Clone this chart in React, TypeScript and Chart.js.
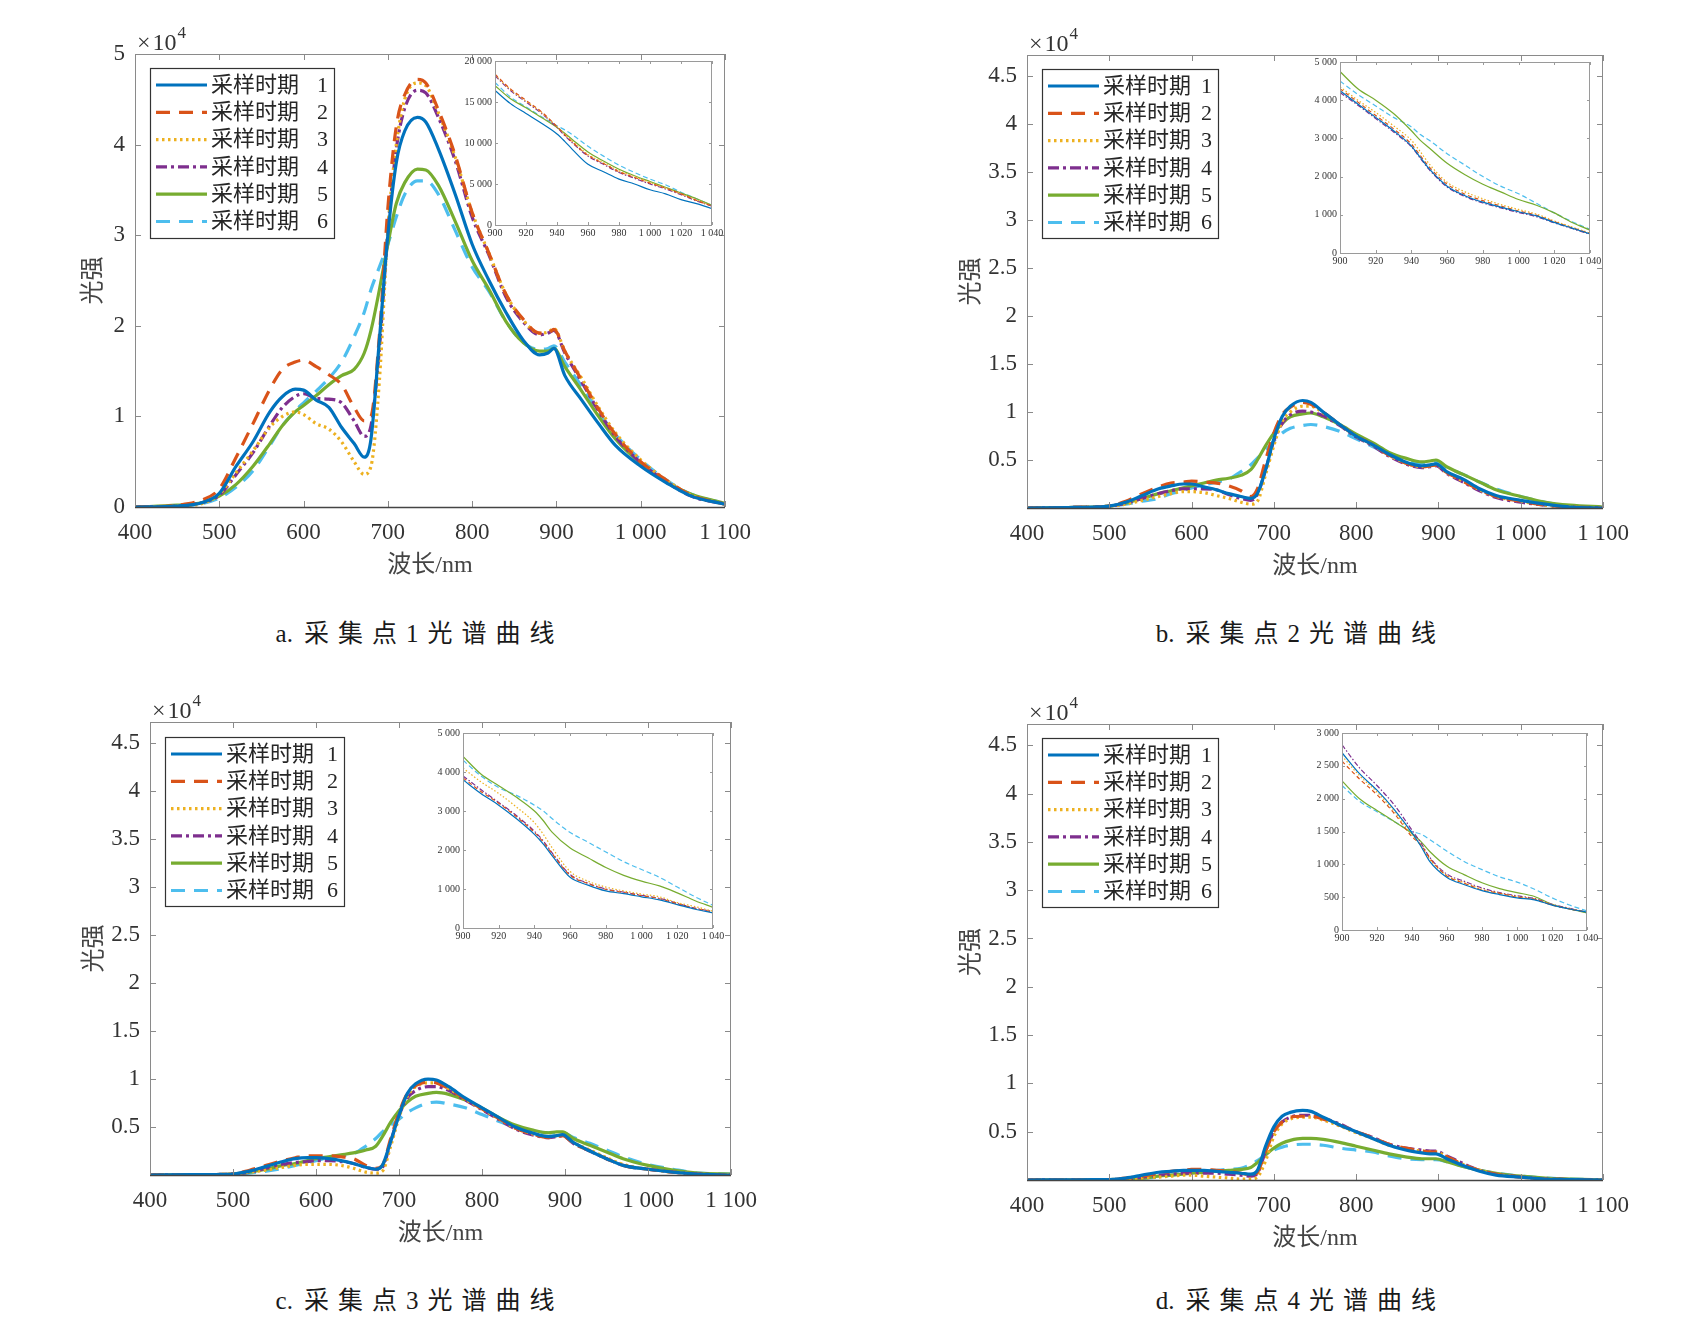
import React, { useEffect, useRef } from "react";
import { Chart, registerables } from "chart.js";

Chart.register(...registerables);

const FONT = "'Liberation Serif', 'Noto Sans CJK SC', serif";

// ---------- main spectra (x 10^4) ----------
const WL = [400, 450, 480, 500, 520, 540, 560, 575, 590, 600, 615, 630, 645, 660, 672, 680, 690, 700, 710, 720, 735, 745, 760, 780, 800, 820, 840, 860, 880, 890, 897, 910, 930, 950, 970, 1000, 1030, 1060, 1100];

const A1 = [0, 0.01, 0.05, 0.15, 0.45, 0.72, 1.05, 1.22, 1.3, 1.29, 1.18, 1.1, 0.88, 0.7, 0.55, 0.75, 1.85, 3.0, 3.8, 4.15, 4.3, 4.25, 3.95, 3.45, 2.9, 2.5, 2.15, 1.85, 1.68, 1.7, 1.75, 1.45, 1.18, 0.92, 0.68, 0.45, 0.27, 0.12, 0.03];
const A2 = [0, 0.02, 0.08, 0.2, 0.55, 0.92, 1.3, 1.52, 1.6, 1.62, 1.55, 1.46, 1.35, 1.1, 0.95, 1.0, 1.9, 3.3, 4.2, 4.55, 4.72, 4.68, 4.38, 3.88, 3.25, 2.8, 2.35, 2.08, 1.92, 1.92, 1.96, 1.72, 1.4, 1.08, 0.8, 0.5, 0.3, 0.13, 0.03];
const A3 = [0, 0.01, 0.04, 0.14, 0.38, 0.62, 0.88, 1.0, 1.05, 1.02, 0.92, 0.86, 0.72, 0.5, 0.36, 0.45, 1.4, 3.05, 4.0, 4.5, 4.68, 4.65, 4.35, 3.86, 3.25, 2.8, 2.35, 2.07, 1.92, 1.93, 1.97, 1.72, 1.42, 1.1, 0.82, 0.52, 0.3, 0.13, 0.03];
const A4 = [0, 0.01, 0.05, 0.13, 0.36, 0.6, 0.9, 1.1, 1.22, 1.25, 1.2, 1.19, 1.15, 0.95, 0.78, 0.9, 1.75, 3.05, 3.95, 4.4, 4.6, 4.57, 4.3, 3.82, 3.2, 2.78, 2.32, 2.05, 1.9, 1.92, 1.95, 1.7, 1.38, 1.06, 0.78, 0.49, 0.28, 0.12, 0.03];
const A5 = [0, 0.02, 0.05, 0.12, 0.25, 0.45, 0.7, 0.9, 1.05, 1.12, 1.23, 1.35, 1.45, 1.52, 1.7, 1.95, 2.4, 2.9, 3.35, 3.58, 3.73, 3.72, 3.55, 3.15, 2.72, 2.4, 2.05, 1.82, 1.72, 1.72, 1.75, 1.55, 1.28, 1.0, 0.75, 0.48, 0.28, 0.14, 0.04];
const A6 = [0, 0.01, 0.04, 0.1, 0.22, 0.4, 0.68, 0.9, 1.06, 1.15, 1.28, 1.42, 1.6, 1.88, 2.15, 2.4, 2.65, 2.9, 3.2, 3.45, 3.6, 3.6, 3.45, 3.05, 2.65, 2.38, 2.05, 1.82, 1.74, 1.75, 1.78, 1.6, 1.33, 1.05, 0.8, 0.52, 0.3, 0.14, 0.04];

const B1 = [0, 0.005, 0.01, 0.02, 0.06, 0.13, 0.2, 0.23, 0.25, 0.25, 0.22, 0.19, 0.15, 0.12, 0.1, 0.15, 0.4, 0.72, 0.95, 1.06, 1.12, 1.1, 1.0, 0.87, 0.75, 0.66, 0.56, 0.48, 0.44, 0.45, 0.46, 0.38, 0.3, 0.2, 0.13, 0.08, 0.04, 0.01, 0];
const B2 = [0, 0.005, 0.01, 0.02, 0.07, 0.15, 0.22, 0.26, 0.27, 0.28, 0.27, 0.26, 0.23, 0.18, 0.12, 0.2, 0.5, 0.78, 0.97, 1.05, 1.1, 1.08, 1.0, 0.87, 0.75, 0.66, 0.55, 0.47, 0.43, 0.44, 0.45, 0.37, 0.28, 0.19, 0.12, 0.07, 0.03, 0.01, 0];
const B3 = [0, 0.005, 0.01, 0.02, 0.04, 0.08, 0.12, 0.15, 0.17, 0.17, 0.16, 0.13, 0.1, 0.06, 0.04, 0.07, 0.35, 0.65, 0.9, 1.0, 1.06, 1.06, 0.99, 0.87, 0.75, 0.66, 0.55, 0.47, 0.43, 0.44, 0.45, 0.37, 0.28, 0.19, 0.12, 0.07, 0.03, 0.01, 0];
const B4 = [0, 0.005, 0.01, 0.02, 0.05, 0.1, 0.15, 0.18, 0.2, 0.2, 0.2, 0.19, 0.14, 0.1, 0.08, 0.14, 0.4, 0.7, 0.88, 0.97, 1.01, 1.0, 0.96, 0.86, 0.74, 0.65, 0.54, 0.46, 0.42, 0.43, 0.44, 0.36, 0.27, 0.18, 0.11, 0.06, 0.03, 0.01, 0];
const B5 = [0, 0.005, 0.01, 0.02, 0.05, 0.1, 0.15, 0.18, 0.21, 0.23, 0.26, 0.29, 0.31, 0.34, 0.4, 0.5, 0.65, 0.78, 0.88, 0.95, 0.98, 0.99, 0.95, 0.87, 0.77, 0.68, 0.58, 0.52, 0.48, 0.49, 0.5, 0.43, 0.35, 0.27, 0.19, 0.12, 0.06, 0.03, 0.01];
const B6 = [0, 0.005, 0.01, 0.02, 0.04, 0.07, 0.1, 0.15, 0.18, 0.21, 0.24, 0.27, 0.3, 0.38, 0.45, 0.52, 0.6, 0.7, 0.78, 0.83, 0.86, 0.87, 0.85, 0.8, 0.72, 0.64, 0.56, 0.5, 0.47, 0.47, 0.48, 0.42, 0.35, 0.27, 0.2, 0.12, 0.06, 0.02, 0.01];

const C1 = [0, 0.003, 0.005, 0.01, 0.04, 0.09, 0.14, 0.17, 0.18, 0.18, 0.17, 0.15, 0.12, 0.08, 0.06, 0.1, 0.35, 0.62, 0.85, 0.95, 1.0, 0.99, 0.92, 0.8, 0.7, 0.6, 0.5, 0.44, 0.4, 0.41, 0.42, 0.34, 0.25, 0.17, 0.1, 0.06, 0.03, 0.01, 0];
const C2 = [0, 0.003, 0.005, 0.01, 0.05, 0.1, 0.15, 0.18, 0.2, 0.2, 0.2, 0.19, 0.17, 0.1, 0.07, 0.1, 0.38, 0.65, 0.85, 0.93, 0.97, 0.96, 0.9, 0.79, 0.69, 0.59, 0.49, 0.43, 0.39, 0.4, 0.41, 0.33, 0.25, 0.17, 0.1, 0.06, 0.03, 0.01, 0];
const C3 = [0, 0.003, 0.005, 0.01, 0.03, 0.05, 0.08, 0.1, 0.11, 0.11, 0.11, 0.1, 0.07, 0.03, 0.02, 0.04, 0.3, 0.6, 0.82, 0.92, 0.96, 0.96, 0.9, 0.79, 0.69, 0.59, 0.49, 0.43, 0.4, 0.41, 0.42, 0.34, 0.26, 0.18, 0.11, 0.06, 0.03, 0.01, 0];
const C4 = [0, 0.003, 0.005, 0.01, 0.03, 0.07, 0.11, 0.13, 0.14, 0.15, 0.15, 0.14, 0.12, 0.08, 0.06, 0.08, 0.35, 0.62, 0.8, 0.88, 0.92, 0.92, 0.88, 0.78, 0.68, 0.58, 0.48, 0.42, 0.39, 0.4, 0.41, 0.33, 0.25, 0.17, 0.1, 0.06, 0.03, 0.01, 0];
const C5 = [0, 0.003, 0.005, 0.01, 0.03, 0.06, 0.1, 0.12, 0.15, 0.17, 0.19, 0.21, 0.23, 0.26, 0.3, 0.4, 0.55, 0.67, 0.76, 0.82, 0.85, 0.86, 0.84, 0.78, 0.7, 0.6, 0.52, 0.47, 0.44, 0.45, 0.45, 0.38, 0.31, 0.24, 0.17, 0.1, 0.05, 0.02, 0.01];
const C6 = [0, 0.003, 0.005, 0.01, 0.02, 0.04, 0.07, 0.1, 0.13, 0.15, 0.18, 0.2, 0.22, 0.3, 0.38, 0.45, 0.52, 0.58, 0.65, 0.7, 0.75, 0.76, 0.74, 0.7, 0.63, 0.56, 0.5, 0.46, 0.44, 0.44, 0.44, 0.39, 0.33, 0.26, 0.19, 0.11, 0.06, 0.02, 0.01];

const D1 = [0, 0.002, 0.003, 0.005, 0.02, 0.05, 0.08, 0.09, 0.1, 0.1, 0.1, 0.09, 0.08, 0.07, 0.06, 0.1, 0.35, 0.55, 0.66, 0.7, 0.72, 0.71, 0.65, 0.57, 0.5, 0.43, 0.36, 0.31, 0.28, 0.27, 0.27, 0.22, 0.15, 0.09, 0.05, 0.03, 0.01, 0.005, 0];
const D2 = [0, 0.002, 0.003, 0.005, 0.02, 0.04, 0.07, 0.09, 0.1, 0.11, 0.11, 0.1, 0.09, 0.07, 0.05, 0.08, 0.3, 0.5, 0.6, 0.65, 0.66, 0.66, 0.63, 0.57, 0.5, 0.44, 0.37, 0.33, 0.3, 0.29, 0.29, 0.24, 0.16, 0.1, 0.06, 0.03, 0.01, 0.005, 0];
const D3 = [0, 0.002, 0.003, 0.005, 0.01, 0.02, 0.03, 0.04, 0.05, 0.05, 0.04, 0.03, 0.02, 0.01, 0.01, 0.03, 0.2, 0.45, 0.58, 0.63, 0.65, 0.65, 0.62, 0.56, 0.49, 0.43, 0.36, 0.32, 0.3, 0.29, 0.29, 0.24, 0.16, 0.1, 0.06, 0.03, 0.01, 0.005, 0];
const D4 = [0, 0.002, 0.003, 0.005, 0.01, 0.03, 0.05, 0.06, 0.07, 0.07, 0.07, 0.07, 0.06, 0.05, 0.04, 0.07, 0.3, 0.5, 0.6, 0.65, 0.67, 0.67, 0.64, 0.58, 0.5, 0.44, 0.37, 0.33, 0.31, 0.3, 0.3, 0.25, 0.17, 0.1, 0.06, 0.03, 0.01, 0.005, 0];
const D5 = [0, 0.002, 0.003, 0.005, 0.01, 0.02, 0.04, 0.05, 0.06, 0.07, 0.08, 0.09, 0.1, 0.11, 0.13, 0.18, 0.26, 0.33, 0.38, 0.41, 0.43, 0.43, 0.42, 0.39, 0.35, 0.31, 0.27, 0.24, 0.22, 0.22, 0.22, 0.19, 0.14, 0.1, 0.07, 0.04, 0.02, 0.01, 0];
const D6 = [0, 0.002, 0.003, 0.005, 0.01, 0.02, 0.03, 0.05, 0.07, 0.08, 0.09, 0.1, 0.11, 0.12, 0.16, 0.2, 0.26, 0.31, 0.34, 0.36, 0.37, 0.37, 0.36, 0.33, 0.31, 0.29, 0.25, 0.22, 0.21, 0.21, 0.21, 0.19, 0.14, 0.1, 0.07, 0.04, 0.02, 0.01, 0];

// ---------- inset spectra 900-1040 nm ----------
const WLI = [900, 910, 920, 930, 940, 945, 950, 960, 970, 980, 990, 1000, 1010, 1020, 1030, 1040];

const IA1 = [16400, 14800, 13600, 12400, 11100, 10200, 9200, 7400, 6500, 5600, 5000, 4300, 3800, 3100, 2600, 2000];
const IA2 = [18400, 16600, 15200, 13800, 12000, 11000, 10100, 8500, 7500, 6500, 5800, 5100, 4500, 3800, 3000, 2300];
const IA3 = [18300, 16500, 15100, 13700, 12000, 11050, 10200, 8600, 7600, 6600, 5900, 5200, 4500, 3800, 3050, 2350];
const IA4 = [18200, 16400, 15000, 13600, 11900, 10900, 10000, 8400, 7400, 6400, 5700, 5000, 4400, 3700, 2950, 2300];
const IA5 = [17000, 15400, 14300, 13100, 11900, 11200, 10400, 8900, 7800, 6800, 6000, 5300, 4600, 3900, 3200, 2400];
const IA6 = [17400, 15600, 14400, 13200, 12100, 11600, 11000, 9600, 8400, 7300, 6400, 5600, 4900, 4000, 3200, 2400];

const IB1 = [4250, 3900, 3550, 3200, 2800, 2500, 2200, 1750, 1500, 1330, 1200, 1080, 970, 800, 650, 500];
const IB2 = [4300, 3950, 3600, 3250, 2850, 2550, 2250, 1800, 1540, 1370, 1230, 1100, 990, 820, 660, 510];
const IB3 = [4350, 4000, 3680, 3330, 2950, 2650, 2330, 1850, 1600, 1420, 1270, 1140, 1020, 840, 680, 520];
const IB4 = [4200, 3870, 3520, 3170, 2780, 2480, 2180, 1730, 1480, 1310, 1180, 1060, 950, 790, 640, 490];
const IB5 = [4750, 4300, 4000, 3650, 3200, 2950, 2750, 2350, 2050, 1800, 1600, 1400, 1250, 1050, 800, 600];
const IB6 = [4500, 4150, 3850, 3550, 3300, 3100, 2950, 2600, 2300, 2000, 1750, 1550, 1300, 1050, 820, 620];

const IC1 = [3800, 3450, 3150, 2800, 2400, 2150, 1850, 1300, 1100, 950, 880, 800, 720, 600, 480, 390];
const IC2 = [3850, 3500, 3200, 2850, 2450, 2200, 1900, 1350, 1140, 990, 910, 830, 750, 620, 500, 410];
const IC3 = [4100, 3750, 3450, 3100, 2700, 2400, 2050, 1450, 1200, 1050, 950, 870, 800, 650, 550, 430];
const IC4 = [3900, 3550, 3220, 2880, 2480, 2230, 1920, 1370, 1150, 1000, 920, 840, 760, 630, 510, 420];
const IC5 = [4400, 3950, 3650, 3350, 3000, 2750, 2450, 2050, 1800, 1550, 1350, 1200, 1080, 900, 700, 530];
const IC6 = [4300, 3900, 3600, 3400, 3150, 3000, 2800, 2450, 2200, 1950, 1700, 1500, 1300, 1050, 800, 580];

const ID1 = [2700, 2380, 2130, 1830, 1480, 1280, 1050, 800, 690, 600, 540, 490, 460, 380, 320, 270];
const ID2 = [2570, 2300, 2060, 1770, 1420, 1300, 1100, 820, 710, 610, 560, 500, 470, 380, 320, 270];
const ID3 = [2650, 2350, 2100, 1800, 1450, 1290, 1080, 830, 720, 620, 560, 510, 470, 385, 325, 275];
const ID4 = [2820, 2470, 2200, 1900, 1520, 1330, 1110, 850, 740, 640, 570, 520, 480, 390, 330, 270];
const ID5 = [2270, 2000, 1820, 1650, 1470, 1350, 1200, 970, 840, 720, 630, 570, 510, 390, 320, 260];
const ID6 = [2200, 1960, 1800, 1650, 1500, 1460, 1380, 1200, 1040, 920, 810, 730, 620, 490, 380, 290];

// ---------- labels & ticks ----------
const LABELS = ["采样时期 1", "采样时期 2", "采样时期 3", "采样时期 4", "采样时期 5", "采样时期 6"];
const X_TICKS = [400, 500, 600, 700, 800, 900, 1000, 1100];
const Y_TICKS_A = [0, 1, 2, 3, 4, 5];
const Y_TICKS_BCD = [0.5, 1, 1.5, 2, 2.5, 3, 3.5, 4, 4.5];
const IX_TICKS = [900, 920, 940, 960, 980, 1000, 1020, 1040];
const IY_TICKS_A = [0, 5000, 10000, 15000, 20000];
const IY_TICKS_BC = [0, 1000, 2000, 3000, 4000, 5000];
const IY_TICKS_D = [0, 500, 1000, 1500, 2000, 2500, 3000];
const CAPTIONS = ["a. 采集点1光谱曲线", "b. 采集点2光谱曲线", "c. 采集点3光谱曲线", "d. 采集点4光谱曲线"];
const X_TITLE = "波长/nm";
const Y_TITLE = "光强";

// ---------- styles ----------
const COLORS = ["#0072BD", "#D95319", "#EDB120", "#7E2F8E", "#77AC30", "#4DBEEE"];
const MAIN_DASH = [[], [14, 9], [2.5, 3.5], [11, 4, 3, 4], [], [14, 9]];
const INSET_DASH = [[], [4, 3], [1.5, 2], [5, 2, 1.5, 2], [], [5, 3]];

const fmt = (v: number) => {
  const s = String(Math.round(v));
  if (s.length <= 3) return s;
  return s.slice(0, s.length - 3) + " " + s.slice(-3);
};

const framePlugin = {
  id: "frame",
  beforeDatasetsDraw(chart: any, _args: any, opts: any) {
    if (!opts.fill) return;
    const { left, top, width, height } = chart.chartArea;
    const ctx = chart.ctx;
    ctx.save();
    ctx.fillStyle = "#ffffff";
    ctx.fillRect(left, top, width, height);
    ctx.restore();
  },
  afterDatasetsDraw(chart: any, _args: any, opts: any) {
    const ctx = chart.ctx;
    const a = chart.chartArea;
    const xs = chart.scales.x;
    const ys = chart.scales.y;
    const L = opts.tickLen;
    ctx.save();
    ctx.setLineDash([]);
    ctx.strokeStyle = opts.boxColor;
    ctx.lineWidth = 1;
    ctx.strokeRect(Math.round(a.left) + 0.5, Math.round(a.top) + 0.5, Math.round(a.width) - 1, Math.round(a.height));
    ctx.beginPath();
    xs.ticks.forEach((t: any) => {
      const px = Math.round(xs.getPixelForValue(t.value)) + 0.5;
      ctx.moveTo(px, a.bottom);
      ctx.lineTo(px, a.bottom - L);
      ctx.moveTo(px, a.top);
      ctx.lineTo(px, a.top + L);
    });
    ys.ticks.forEach((t: any) => {
      const py = Math.round(ys.getPixelForValue(t.value)) + 0.5;
      ctx.moveTo(a.left, py);
      ctx.lineTo(a.left + L, py);
      ctx.moveTo(a.right, py);
      ctx.lineTo(a.right - L, py);
    });
    ctx.stroke();
    if (opts.bottomColor) {
      ctx.strokeStyle = opts.bottomColor;
      ctx.lineWidth = 1.5;
      ctx.beginPath();
      ctx.moveTo(a.left, Math.round(a.bottom) + 0.5);
      ctx.lineTo(a.right, Math.round(a.bottom) + 0.5);
      ctx.stroke();
    }
    if (opts.exponent) {
      ctx.fillStyle = "#333333";
      ctx.textBaseline = "alphabetic";
      ctx.textAlign = "left";
      const base = a.top - 4;
      ctx.font = `24px ${FONT}`;
      ctx.fillText("×", a.left + 2, base);
      const w1 = ctx.measureText("×").width;
      ctx.fillText("10", a.left + 4 + w1, base);
      const w2 = ctx.measureText("10").width;
      ctx.font = `17px ${FONT}`;
      ctx.fillText("4", a.left + 5 + w1 + w2, base - 12);
    }
    const lg = opts.legend;
    if (lg) {
      ctx.fillStyle = "#ffffff";
      ctx.fillRect(lg.l, lg.t, lg.w, lg.h);
      ctx.strokeStyle = "#333333";
      ctx.lineWidth = 1.2;
      ctx.strokeRect(lg.l + 0.5, lg.t + 0.5, lg.w, lg.h);
      chart.data.datasets.forEach((ds: any, i: number) => {
        const y = lg.t + 17 + i * 27.3;
        ctx.strokeStyle = ds.borderColor;
        ctx.lineWidth = ds.borderWidth;
        ctx.setLineDash(ds.borderDash || []);
        ctx.beginPath();
        ctx.moveTo(lg.l + 6, y);
        ctx.lineTo(lg.l + 57, y);
        ctx.stroke();
        ctx.setLineDash([]);
        ctx.fillStyle = "#262626";
        ctx.font = `22px ${FONT}`;
        ctx.textBaseline = "middle";
        const parts = String(ds.label).split(" ");
        ctx.textAlign = "left";
        ctx.fillText(parts[0], lg.l + 61, y + 1);
        ctx.textAlign = "right";
        ctx.fillText(parts[1] || "", lg.l + lg.w - 6, y + 1);
      });
    }
    ctx.restore();
  },
};

type Box = { l: number; t: number; w: number; h: number };

const YW = 75, XH = 80, PAD_T = 32, PAD_R = 45;
const IYW = 40, IXH = 16, IPAD_T = 8, IPAD_R = 16;

const PANELS = [
  {
    plot: { l: 135, t: 54, w: 590, h: 453 }, yMax: 5, yTicks: Y_TICKS_A, series: [A1, A2, A3, A4, A5, A6], yTitlePad: 19,
    legend: { l: 150, t: 68, w: 184, h: 170 },
    inset: { l: 495, t: 60, w: 217, h: 165 }, iyMax: 20000, iyTicks: IY_TICKS_A, iseries: [IA1, IA2, IA3, IA4, IA5, IA6],
    caption: { x: 415, y: 634 },
  },
  {
    plot: { l: 1027, t: 55, w: 576, h: 453 }, yMax: 4.72, yTicks: Y_TICKS_BCD, series: [B1, B2, B3, B4, B5, B6], yTitlePad: 5,
    legend: { l: 1042, t: 69, w: 176, h: 169 },
    inset: { l: 1340, t: 61, w: 250, h: 192 }, iyMax: 5000, iyTicks: IY_TICKS_BC, iseries: [IB1, IB2, IB3, IB4, IB5, IB6],
    caption: { x: 1296, y: 634 },
  },
  {
    plot: { l: 150, t: 722, w: 581, h: 453 }, yMax: 4.72, yTicks: Y_TICKS_BCD, series: [C1, C2, C3, C4, C5, C6], yTitlePad: 5,
    legend: { l: 165, t: 737, w: 179, h: 169 },
    inset: { l: 463, t: 732, w: 250, h: 196 }, iyMax: 5000, iyTicks: IY_TICKS_BC, iseries: [IC1, IC2, IC3, IC4, IC5, IC6],
    caption: { x: 415, y: 1301 },
  },
  {
    plot: { l: 1027, t: 724, w: 576, h: 456 }, yMax: 4.72, yTicks: Y_TICKS_BCD, series: [D1, D2, D3, D4, D5, D6], yTitlePad: 5,
    legend: { l: 1042, t: 738, w: 176, h: 169 },
    inset: { l: 1342, t: 732, w: 245, h: 198 }, iyMax: 3000, iyTicks: IY_TICKS_D, iseries: [ID1, ID2, ID3, ID4, ID5, ID6],
    caption: { x: 1296, y: 1301 },
  },
];

function mainConfig(p: any, cl: number, ct: number) {
  return {
    type: "line",
    data: {
      datasets: p.series.map((s: number[], i: number) => ({
        label: LABELS[i],
        data: WL.map((x, k) => ({ x, y: s[k] })),
        borderColor: COLORS[i],
        borderWidth: 3.2,
        borderDash: MAIN_DASH[i],
        pointRadius: 0,
        fill: false,
        cubicInterpolationMode: "monotone",
      })),
    },
    options: {
      animation: false,
      responsive: false,
      maintainAspectRatio: false,
      events: [],
      layout: { padding: { top: PAD_T, right: PAD_R, left: 0, bottom: 0 } },
      plugins: {
        legend: { display: false },
        tooltip: { enabled: false },
        frame: {
          tickLen: 6,
          boxColor: "#8a8a8a",
          bottomColor: "#444444",
          exponent: true,
          legend: { l: p.legend.l - cl, t: p.legend.t - ct, w: p.legend.w, h: p.legend.h },
        },
      },
      scales: {
        x: {
          type: "linear",
          min: 400,
          max: 1100,
          afterBuildTicks: (s: any) => { s.ticks = X_TICKS.map((v) => ({ value: v })); },
          afterFit: (s: any) => { s.height = XH; },
          grid: { display: false, drawTicks: false },
          border: { display: false },
          ticks: { font: { family: FONT, size: 23 }, color: "#333333", padding: 12, maxRotation: 0, autoSkip: false, callback: (v: any) => fmt(Number(v)) },
          title: { display: true, text: X_TITLE, font: { family: FONT, size: 24 }, color: "#444444", padding: { top: 0, bottom: 7 } },
        },
        y: {
          type: "linear",
          min: 0,
          max: p.yMax,
          afterBuildTicks: (s: any) => { s.ticks = p.yTicks.map((v: number) => ({ value: v })); },
          afterFit: (s: any) => { s.width = YW; },
          grid: { display: false, drawTicks: false },
          border: { display: false },
          ticks: { font: { family: FONT, size: 23 }, color: "#333333", padding: 10, autoSkip: false, callback: (v: any) => String(v) },
          title: { display: true, text: Y_TITLE, font: { family: FONT, size: 24 }, color: "#444444", padding: { top: p.yTitlePad, bottom: 0 } },
        },
      },
    },
    plugins: [framePlugin],
  };
}

function insetConfig(p: any) {
  return {
    type: "line",
    data: {
      datasets: p.iseries.map((s: number[], i: number) => ({
        label: LABELS[i],
        data: WLI.map((x, k) => ({ x, y: s[k] })),
        borderColor: COLORS[i],
        borderWidth: 1.2,
        borderDash: INSET_DASH[i],
        pointRadius: 0,
        fill: false,
        cubicInterpolationMode: "monotone",
      })),
    },
    options: {
      animation: false,
      responsive: false,
      maintainAspectRatio: false,
      events: [],
      layout: { padding: { top: IPAD_T, right: IPAD_R, left: 0, bottom: 0 } },
      plugins: {
        legend: { display: false },
        tooltip: { enabled: false },
        frame: { tickLen: 3, boxColor: "#9a9a9a", fill: true },
      },
      scales: {
        x: {
          type: "linear",
          min: 900,
          max: 1040,
          afterBuildTicks: (s: any) => { s.ticks = IX_TICKS.map((v) => ({ value: v })); },
          afterFit: (s: any) => { s.height = IXH; },
          grid: { display: false, drawTicks: false },
          border: { display: false },
          ticks: { font: { family: FONT, size: 10 }, color: "#333333", padding: 2, maxRotation: 0, autoSkip: false, callback: (v: any) => fmt(Number(v)) },
        },
        y: {
          type: "linear",
          min: 0,
          max: p.iyMax,
          afterBuildTicks: (s: any) => { s.ticks = p.iyTicks.map((v: number) => ({ value: v })); },
          afterFit: (s: any) => { s.width = IYW; },
          grid: { display: false, drawTicks: false },
          border: { display: false },
          ticks: { font: { family: FONT, size: 10 }, color: "#333333", padding: 3, autoSkip: false, callback: (v: any) => fmt(Number(v)) },
        },
      },
    },
    plugins: [framePlugin],
  };
}

function ChartCanvas({ box, make }: { box: Box; make: () => any }) {
  const ref = useRef<HTMLCanvasElement | null>(null);
  useEffect(() => {
    if (!ref.current) return;
    const chart = new Chart(ref.current, make());
    return () => chart.destroy();
  }, []);
  return (
    <canvas
      ref={ref}
      width={box.w}
      height={box.h}
      style={{ position: "absolute", left: box.l, top: box.t, width: box.w, height: box.h }}
    />
  );
}

export default function App() {
  return (
    <div style={{ position: "absolute", left: 0, top: 0, width: 1708, height: 1340, background: "#ffffff", overflow: "hidden" }}>
      {PANELS.map((p, i) => {
        const mb: Box = { l: p.plot.l - YW, t: p.plot.t - PAD_T, w: YW + p.plot.w + PAD_R, h: PAD_T + p.plot.h + XH };
        const ib: Box = { l: p.inset.l - IYW, t: p.inset.t - IPAD_T, w: IYW + p.inset.w + IPAD_R, h: IPAD_T + p.inset.h + IXH };
        const cap = CAPTIONS[i];
        const sp = cap.indexOf(" ");
        return (
          <React.Fragment key={i}>
            <ChartCanvas box={mb} make={() => mainConfig(p, mb.l, mb.t)} />
            <ChartCanvas box={ib} make={() => insetConfig(p)} />
            <div
              style={{
                position: "absolute",
                left: p.caption.x - 300,
                top: p.caption.y - 15,
                width: 600,
                textAlign: "center",
                fontFamily: FONT,
                fontSize: 25,
                lineHeight: "30px",
                color: "#1a1a1a",
                whiteSpace: "nowrap",
              }}
            >
              <span>{cap.slice(0, sp)}</span>
              <span style={{ marginLeft: 11, letterSpacing: "9px", marginRight: -9 }}>{cap.slice(sp + 1)}</span>
            </div>
          </React.Fragment>
        );
      })}
    </div>
  );
}
